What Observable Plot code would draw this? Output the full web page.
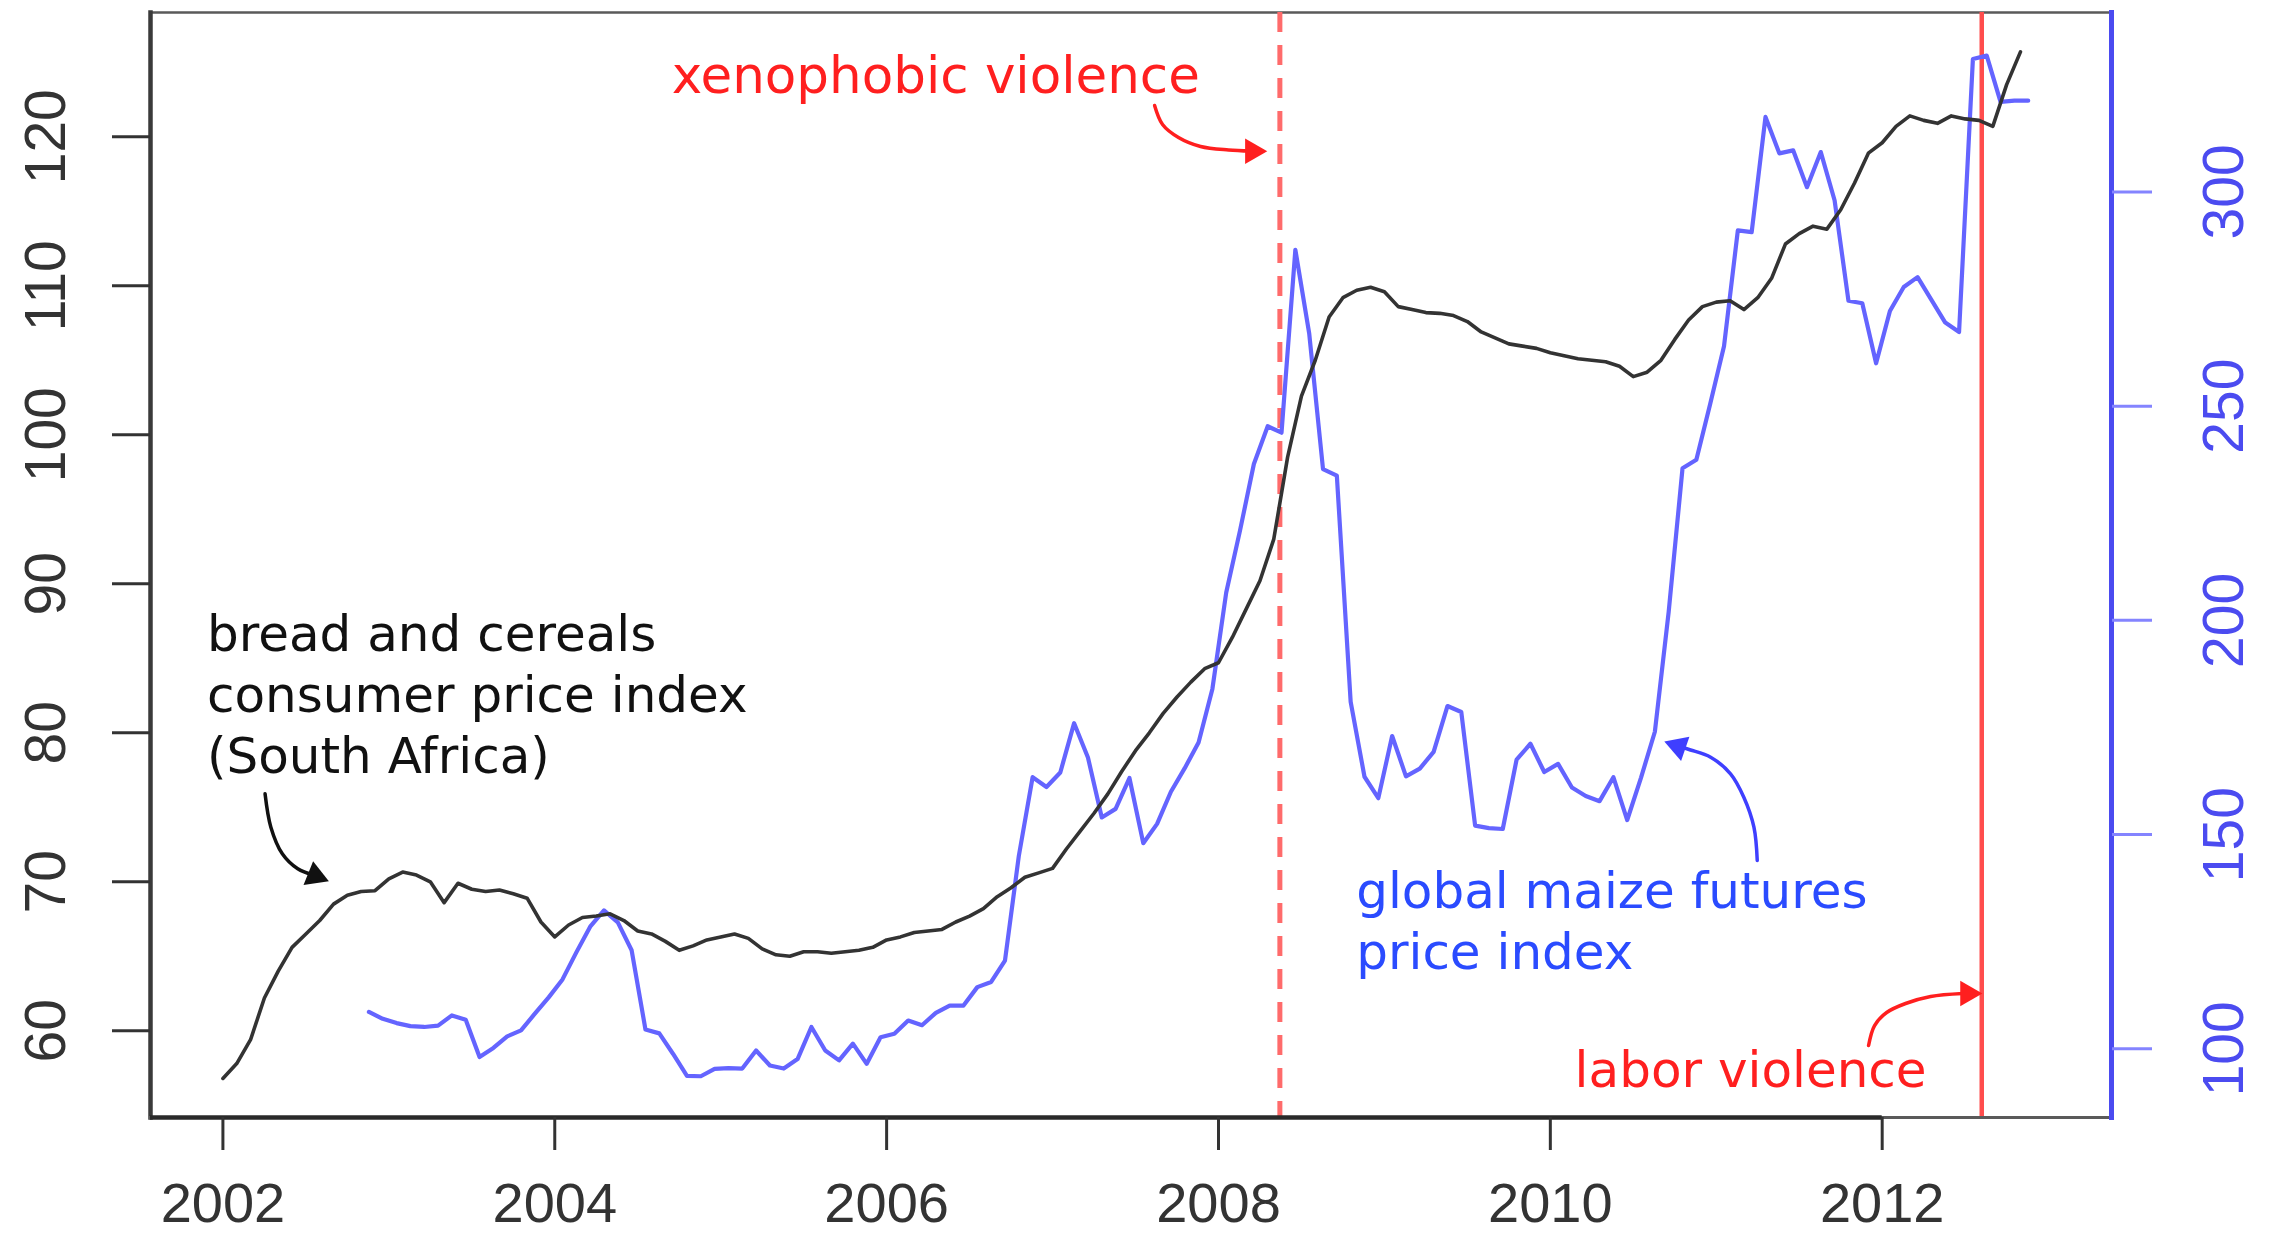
<!DOCTYPE html>
<html>
<head>
<meta charset="utf-8">
<script src="https://cdn.jsdelivr.net/npm/d3@7"></script>
<script src="https://cdn.jsdelivr.net/npm/@observablehq/plot@0.6"></script>
<style>
  html, body { margin: 0; padding: 0; background: #ffffff; }
  #chart svg { display: block; }
</style>
</head>
<body>
<div id="chart"></div>
<script>
// ---- tick values ----
const xTicks = [2002, 2004, 2006, 2008, 2010, 2012];
const leftTicks = [60, 70, 80, 90, 100, 110, 120];
const rightTicks = [100, 150, 200, 250, 300];

// ---- bread and cereals CPI (South Africa), monthly from Jan 2002 ----
const cpiStart = 2002;
const cpi = [
  56.8, 57.8, 59.4, 62.2, 64.0, 65.6, 66.5, 67.4, 68.5, 69.1, 69.35, 69.4,
  70.2, 70.65, 70.45, 70.0, 68.6, 69.9, 69.5, 69.35, 69.45, 69.2, 68.9, 67.3,
  66.3, 67.1, 67.6, 67.7, 67.85, 67.4, 66.7, 66.5, 66.0, 65.4, 65.7, 66.1,
  66.3, 66.5, 66.2, 65.5, 65.1, 65.0, 65.3, 65.3, 65.2, 65.3, 65.4, 65.6,
  66.1, 66.3, 66.6, 66.7, 66.8, 67.3, 67.7, 68.2, 69.0, 69.6, 70.3, 70.6,
  70.9, 72.2, 73.4, 74.6, 75.9, 77.4, 78.8, 80.0, 81.3, 82.4, 83.4, 84.3,
  84.7, 86.4, 88.3, 90.2, 93.0, 98.5, 102.6, 105.0, 107.9, 109.2, 109.7, 109.9,
  109.6, 108.6, 108.4, 108.2, 108.15, 108.0, 107.6, 106.9, 106.5, 106.1, 105.95, 105.8,
  105.5, 105.3, 105.1, 105.0, 104.9, 104.6, 103.9, 104.2, 105.0, 106.4, 107.7, 108.6,
  108.9, 109.0, 108.4, 109.2, 110.5, 112.8, 113.5, 114.0, 113.8, 115.1, 116.9, 118.9,
  119.6, 120.7, 121.4, 121.1, 120.9, 121.4, 121.2, 121.1, 120.7, 123.5, 125.7
];

// ---- global maize futures price index, monthly from late 2002 ----
const maizeStart = 2002.88;
const maize = [
  108.6, 107.0, 106.0, 105.3, 105.1, 105.4, 107.8, 106.8, 98.1, 100.2, 102.9, 104.3,
  108.2, 112.0, 116.2, 122.5, 128.5, 132.3, 129.5, 123.0, 104.5, 103.6, 98.8, 93.7,
  93.6, 95.3, 95.5, 95.4, 99.6, 96.1, 95.4, 97.6, 105.1, 99.6, 97.3, 101.2,
  96.5, 102.7, 103.5, 106.6, 105.5, 108.4, 110.1, 110.1, 114.4, 115.6, 120.6, 145.0,
  163.4, 161.1, 164.5, 176.0, 168.0, 154.0, 156.0, 163.2, 148.0, 152.5, 160.0, 165.5,
  171.5, 184.0, 206.5, 221.0, 236.5, 245.3, 243.8, 286.5, 267.0, 235.3, 233.8, 181.0,
  163.5, 158.5, 173.0, 163.6, 165.4, 169.3, 180.0, 178.6, 152.1, 151.5, 151.3, 167.5,
  171.2, 164.6, 166.5, 161.0, 159.0, 157.8, 163.4, 153.4, 163.3, 174.0, 202.0, 235.5,
  237.5, 250.5, 264.0, 291.0, 290.6, 317.5, 309.0, 309.7, 301.1, 309.3, 298.0, 274.6,
  274.0, 260.0, 272.2, 277.8, 280.1, 274.8, 269.5, 267.3, 331.0, 331.8, 321.0, 321.3, 321.3
];

// ---- events (vertical lines) ----
const eventNames = ["xenophobic violence", "labor violence"];
const eventYears = [2008.37, 2012.6];

// ---- annotation texts, placed in data units (year, left-axis value) ----
const noteTexts = [
  "xenophobic violence",
  "labor violence",
  "bread and cereals\nconsumer price index\n(South Africa)",
  "global maize futures\nprice index"
];
const noteYears = [2006.296, 2011.207, 2001.904, 2008.830];
const noteValues = [122.92, 56.22, 77.27, 64.16];

// ---- annotation arrows: shaft paths and heads, in data units ----
const arrowPaths = [
  [[2007.615, 122.098], [2007.663, 120.823], [2007.759, 119.951], [2007.892, 119.347], [2008.061, 119.112], [2008.193, 119.038]],
  [[2011.918, 59.012], [2011.954, 60.354], [2012.027, 61.227], [2012.141, 61.831], [2012.292, 62.301], [2012.485, 62.502]],
  [[2002.254, 75.905], [2002.289, 73.663], [2002.358, 71.878], [2002.451, 70.871], [2002.546, 70.448]],
  [[2011.247, 71.428], [2011.227, 73.663], [2011.166, 75.676], [2011.086, 77.247], [2010.966, 78.361], [2010.845, 78.844], [2010.785, 79.045]]
];
const arrowHeads = [[2008.205, 119.031], [2012.515, 62.502], [2002.556, 70.401], [2010.771, 79.085]];

// ---- scales ----
const xDomain = [2001.5636, 2013.382];
const yDomain = [54.18, 128.34];
const rightDomain = [83.97, 341.87];
const toLeft = d3.scaleLinear().domain(rightDomain).range(yDomain);

const RED = "#ff1f1f";
const BLUE_LINE = "#6464ff";
const BLUE_AXIS = "#4b4bf0";
const BLUE_TEXT = "#2a4bff";

const cpiData = cpi.map((v, i) => ({year: cpiStart + i / 12, value: v}));
const maizeData = maize.map((v, i) => ({year: maizeStart + i / 12, value: v}));
const events = eventNames.map((n, i) => ({name: n, year: eventYears[i]}));

const noteStyle = [
  {anchor: "middle", color: RED, size: 51.5},
  {anchor: "middle", color: RED, size: 50},
  {anchor: "start", color: "#111111", size: 50},
  {anchor: "start", color: BLUE_TEXT, size: 50}
];
const arrowStyle = [
  {color: RED, rotate: 90},
  {color: RED, rotate: 90},
  {color: "#111111", rotate: 112},
  {color: "#3f3fff", rotate: -71}
];

const noteMarks = noteTexts.map((t, i) => Plot.text([{text: t, year: noteYears[i], value: noteValues[i]}], {
  x: "year", y: "value", text: "text",
  textAnchor: noteStyle[i].anchor, lineAnchor: "bottom", lineHeight: 1.22,
  fill: noteStyle[i].color, fontSize: noteStyle[i].size, fontFamily: "DejaVu Sans"
}));

const arrowMarks = arrowPaths.flatMap((path, i) => [
  Plot.line(path.map(p => ({year: p[0], value: p[1]})), {
    x: "year", y: "value", curve: "catmull-rom",
    stroke: arrowStyle[i].color, strokeWidth: 3.5, strokeLinecap: "round"
  }),
  Plot.dot([{year: arrowHeads[i][0], value: arrowHeads[i][1]}], {
    x: "year", y: "value", symbol: "triangle", r: 9.5,
    rotate: arrowStyle[i].rotate, fill: arrowStyle[i].color, stroke: "none"
  })
]);

const tickFont = "'Liberation Sans Narrow', 'Liberation Sans', Arial, sans-serif";

const chart = Plot.plot({
  width: 2284,
  height: 1235,
  marginLeft: 150,
  marginRight: 173,
  marginTop: 12,
  marginBottom: 118,
  style: {background: "#ffffff", overflow: "visible"},
  x: {domain: xDomain},
  y: {domain: yDomain},
  marks: [
    Plot.frame({stroke: "#5a5a5a", strokeWidth: 2.5}),
    Plot.ruleX(events.filter((d, i) => i === 0), {x: "year", stroke: "#ff6b6b", strokeWidth: 5, strokeDasharray: "20,13"}),
    Plot.ruleX(events.filter((d, i) => i === 1), {x: "year", stroke: "#ff4d4d", strokeWidth: 4.5}),
    Plot.line(maizeData, {x: "year", y: d => toLeft(d.value), stroke: BLUE_LINE, strokeWidth: 4.2}),
    Plot.line(cpiData, {x: "year", y: "value", stroke: "#333333", strokeWidth: 3.6}),
    Plot.frame({anchor: "left", stroke: "#3a3a3a", strokeWidth: 4.5}),
    Plot.frame({anchor: "bottom", stroke: "#5a5a5a", strokeWidth: 3}),
    Plot.ruleY([yDomain[0]], {x1: xDomain[0], x2: d3.max(xTicks), stroke: "#2a2a2a", strokeWidth: 4.5}),
    Plot.frame({anchor: "right", stroke: BLUE_AXIS, strokeWidth: 5}),
    Plot.axisX(xTicks, {
      anchor: "bottom", tickSize: 33, tickPadding: 32, tickFormat: "d",
      fontSize: 56, fontFamily: "'Liberation Sans', Arial, sans-serif",
      color: "#333333", strokeWidth: 3, label: null
    }),
    Plot.axisY(leftTicks, {
      anchor: "left", tickSize: 38, tickPadding: 48, tickRotate: -90, tickFormat: "d",
      fontSize: 57, fontFamily: tickFont,
      color: "#333333", strokeWidth: 3, label: null
    }),
    Plot.axisY(rightTicks.map(v => toLeft(v)), {
      anchor: "right", tickSize: 40, tickPadding: 91, tickRotate: -90,
      tickFormat: d => String(Math.round(toLeft.invert(d))),
      fontSize: 57, fontFamily: tickFont,
      color: BLUE_AXIS, stroke: "#8484ff", strokeWidth: 3, label: null
    }),
    ...noteMarks,
    ...arrowMarks
  ]
});

document.getElementById("chart").appendChild(chart);
</script>
</body>
</html>
